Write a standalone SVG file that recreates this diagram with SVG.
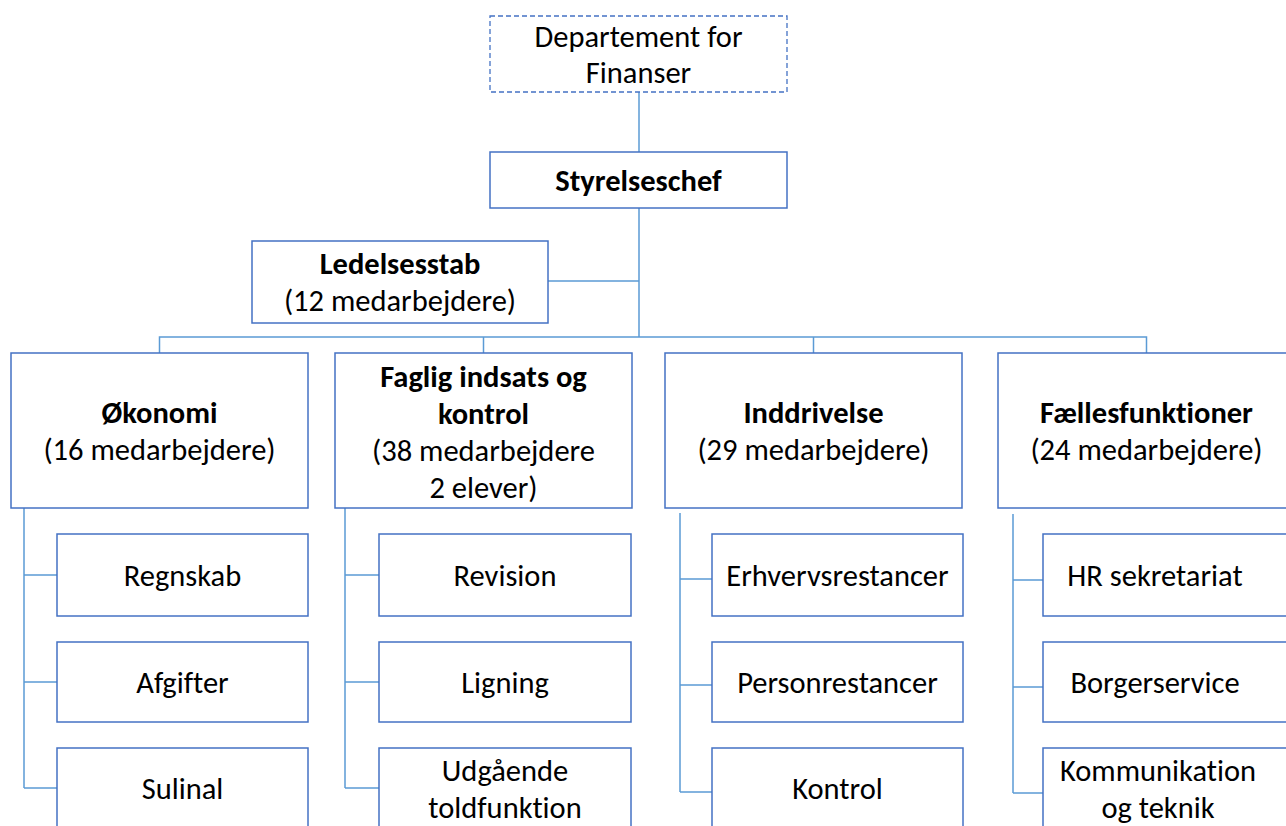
<svg xmlns="http://www.w3.org/2000/svg" width="1286" height="826" viewBox="0 0 1286 826">
<style>
.box{fill:#fff;stroke:#4472C4;stroke-width:1.5}
.dash{fill:#fff;stroke:#4472C4;stroke-width:1.3;stroke-dasharray:5 3}
.ln{fill:none;stroke:#5B9BD5;stroke-width:1.5}
text{font-family:Calibri,Carlito,Lato,"Open Sans",sans-serif;font-size:30.5px;fill:#000;text-anchor:middle;font-variant-ligatures:none}
.b{font-weight:bold}
</style>
<rect width="1286" height="826" fill="#fff"/>
<g id="connectors">
<path class="ln" d="M639 92V152"/>
<path class="ln" d="M639 208V337M548 281H639"/>
<path class="ln" d="M159.5 353V337H1146.5V353M483.5 337V353M813.5 337V353"/>
<path class="ln" d="M24 508V788M24 575H57M24 682H57M24 788H57"/>
<path class="ln" d="M345 508V788M345 575H379M345 682H379M345 788H379"/>
<path class="ln" d="M680 513V792M680 579H712M680 685H712M680 792H712"/>
<path class="ln" d="M1013 514V793M1013 580H1043M1013 687H1043M1013 793H1043"/>
</g>
<g id="dept"><rect class="dash" x="490" y="16" width="297" height="76"/><text x="638.5" y="47">Departement for</text><text x="638.5" y="83">Finanser</text></g>
<g id="chef"><rect class="box" x="490" y="152" width="297" height="56"/><text class="b" x="638.5" y="191">Styrelseschef</text></g>
<g id="stab"><rect class="box" x="252" y="241" width="296" height="82"/><text class="b" x="400" y="274">Ledelsesstab</text><text x="400" y="311">(12 medarbejdere)</text></g>
<g id="okonomi"><rect class="box" x="11" y="353" width="297" height="155"/><text class="b" x="159.5" y="423">Økonomi</text><text x="159.5" y="460">(16 medarbejdere)</text></g>
<g id="faglig"><rect class="box" x="335" y="353" width="297" height="155"/><text class="b" x="483.5" y="387">Faglig indsats og</text><text class="b" x="483.5" y="424">kontrol</text><text x="483.5" y="461">(38 medarbejdere</text><text x="483.5" y="498">2 elever)</text></g>
<g id="inddrivelse"><rect class="box" x="665" y="353" width="297" height="155"/><text class="b" x="813.5" y="423">Inddrivelse</text><text x="813.5" y="460">(29 medarbejdere)</text></g>
<g id="faelles"><rect class="box" x="998" y="353" width="297" height="155"/><text class="b" x="1146.5" y="423">Fællesfunktioner</text><text x="1146.5" y="460">(24 medarbejdere)</text></g>
<g id="regnskab"><rect class="box" x="57" y="534" width="251" height="82"/><text x="182.5" y="586">Regnskab</text></g>
<g id="afgifter"><rect class="box" x="57" y="642" width="251" height="80"/><text x="182.5" y="693">Afgifter</text></g>
<g id="sulinal"><rect class="box" x="57" y="748" width="251" height="82"/><text x="182.5" y="799">Sulinal</text></g>
<g id="revision"><rect class="box" x="379" y="534" width="252" height="82"/><text x="505" y="586">Revision</text></g>
<g id="ligning"><rect class="box" x="379" y="642" width="252" height="80"/><text x="505" y="693">Ligning</text></g>
<g id="udgaaende"><rect class="box" x="379" y="748" width="252" height="82"/><text x="505" y="781">Udgående</text><text x="505" y="818">toldfunktion</text></g>
<g id="erhverv"><rect class="box" x="712" y="534" width="251" height="82"/><text x="837.5" y="586">Erhvervsrestancer</text></g>
<g id="person"><rect class="box" x="712" y="642" width="251" height="80"/><text x="837.5" y="693">Personrestancer</text></g>
<g id="kontrol"><rect class="box" x="712" y="748" width="251" height="82"/><text x="837.5" y="799">Kontrol</text></g>
<g id="hr"><rect class="box" x="1043" y="534" width="251" height="82"/><text x="1155" y="586">HR sekretariat</text></g>
<g id="borger"><rect class="box" x="1043" y="642" width="251" height="80"/><text x="1155" y="693">Borgerservice</text></g>
<g id="komm"><rect class="box" x="1043" y="748" width="251" height="82"/><text x="1158" y="781">Kommunikation</text><text x="1158" y="818">og teknik</text></g>
</svg>
